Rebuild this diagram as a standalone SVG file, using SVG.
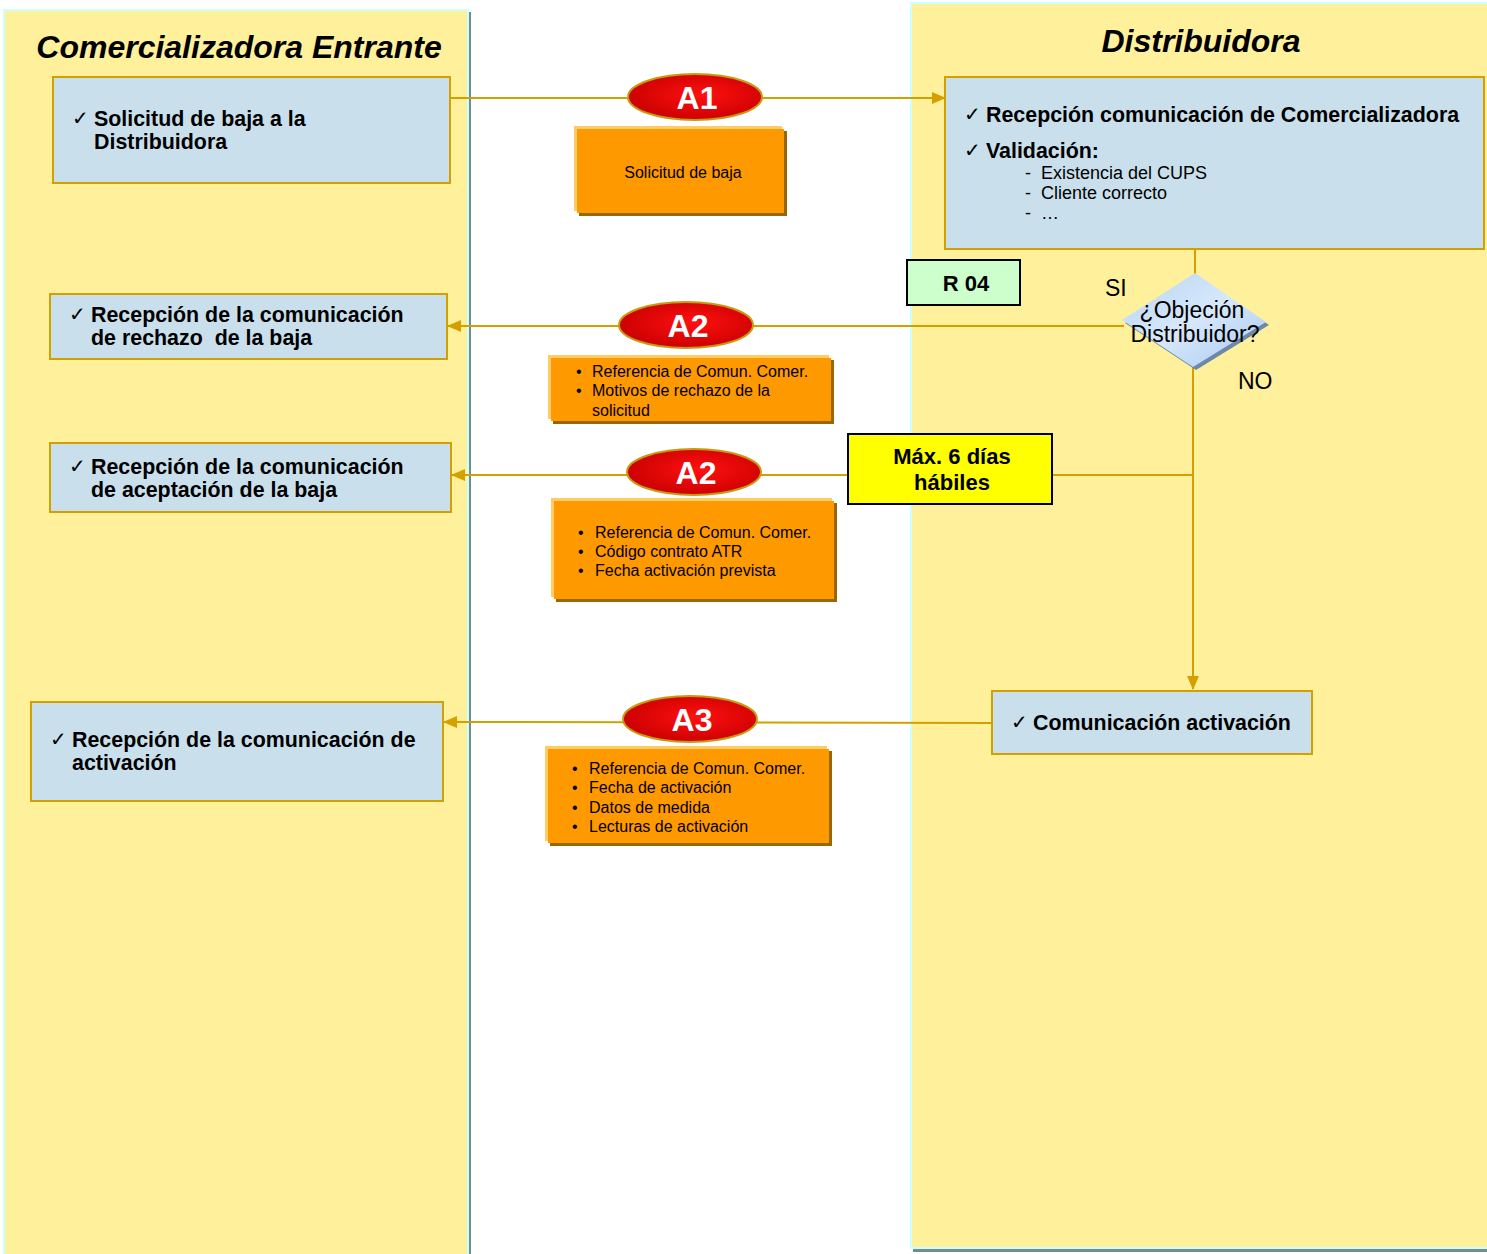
<svg xmlns="http://www.w3.org/2000/svg" width="1487" height="1254" viewBox="0 0 1487 1254">
<style>
.lane{fill:#fff09c;stroke:#ccffff;stroke-width:2}
.box{fill:#c9e0ec;stroke:#d4a000;stroke-width:2}
.or{fill:#ff9900}
.orl{fill:#ffcc66}
.ors{fill:#996600}
.conn{stroke:#d4a000;stroke-width:2;fill:none}
.title{font-family:"Liberation Sans",Arial,sans-serif;font-weight:bold;font-style:italic;font-size:32px;fill:#000}
.bt{font-family:"Liberation Sans",Arial,sans-serif;font-weight:bold;font-size:21.4px;fill:#000;white-space:pre}
.ck{font-family:"DejaVu Sans",sans-serif;font-size:20px;fill:#000}
.ot{font-family:"Liberation Sans",Arial,sans-serif;font-size:16px;fill:#000}
.st{font-family:"Liberation Sans",Arial,sans-serif;font-size:18px;fill:#000}
.lt{font-family:"Liberation Sans",Arial,sans-serif;font-size:23px;fill:#000}
.bd{font-family:"Liberation Sans",Arial,sans-serif;font-weight:bold;font-size:22px;fill:#000}
.at{font-family:"Liberation Sans",Arial,sans-serif;font-weight:bold;font-size:32px;fill:#fff}
.el{fill:url(#red);stroke:#c89a10;stroke-width:2}
</style>
<defs>
<marker id="ah" markerWidth="14" markerHeight="12" refX="13" refY="6" orient="auto" markerUnits="userSpaceOnUse">
<path d="M0,0 L14,6 L0,12 Z" fill="#d4a000"/>
</marker>
<radialGradient id="red" cx="0.55" cy="0.45" r="0.6">
<stop offset="0" stop-color="#ff1010"/>
<stop offset="1" stop-color="#c80000"/>
</radialGradient>
<linearGradient id="dia" x1="0" y1="0" x2="1" y2="1">
<stop offset="0" stop-color="#b8d4f4"/>
<stop offset="0.5" stop-color="#d6e8fb"/>
<stop offset="1" stop-color="#a9c8ee"/>
</linearGradient>
</defs>

<g id="lane-left">
<rect x="468" y="12" width="3" height="1242" fill="#6f8f8f"/>
<rect class="lane" x="4" y="10" width="464" height="1250"/>
<text class="title" x="239" y="58" text-anchor="middle">Comercializadora Entrante</text>
</g>
<g id="lane-right">
<rect x="913" y="1248" width="574" height="4" fill="#6f8f8f"/>
<rect class="lane" x="911" y="3" width="580" height="1245"/>
<text class="title" x="1201" y="52" text-anchor="middle">Distribuidora</text>
</g>

<g id="connectors">
<line class="conn" x1="450" y1="98" x2="945" y2="98" marker-end="url(#ah)"/>
<line class="conn" x1="1195" y1="250" x2="1195" y2="274"/>
<line class="conn" x1="1124" y1="326" x2="448" y2="326" marker-end="url(#ah)"/>
<line class="conn" x1="1193" y1="366" x2="1193" y2="689" marker-end="url(#ah)"/>
<line class="conn" x1="1193" y1="475" x2="452" y2="475" marker-end="url(#ah)"/>
<line class="conn" x1="992" y1="723" x2="444" y2="722" marker-end="url(#ah)"/>
</g>

<g id="n-solicitud">
<rect class="box" x="53" y="77" width="397" height="106"/>
<text class="ck" x="72" y="125">✓</text>
<text class="bt" x="94" y="126">Solicitud de baja a la</text>
<text class="bt" x="94" y="149">Distribuidora</text>
</g>

<g id="n-recepcion">
<rect class="box" x="945" y="77" width="539" height="172"/>
<text class="ck" x="964" y="121">✓</text>
<text class="bt" x="986" y="122">Recepción comunicación de Comercializadora</text>
<text class="ck" x="964" y="157">✓</text>
<text class="bt" x="986" y="158">Validación:</text>
<text class="st" x="1025" y="179">-</text>
<text class="st" x="1041" y="179">Existencia del CUPS</text>
<text class="st" x="1025" y="199">-</text>
<text class="st" x="1041" y="199">Cliente correcto</text>
<text class="st" x="1025" y="219">-</text>
<text class="st" x="1041" y="219">…</text>
</g>

<g id="n-a1">
<ellipse class="el" cx="695" cy="97" rx="67" ry="23"/>
<text class="at" x="697" y="109" text-anchor="middle">A1</text>
</g>
<g id="n-a1-data">
<rect class="ors" x="579" y="131" width="208" height="85"/>
<rect class="orl" x="574" y="126" width="208" height="85"/>
<rect class="or" x="577" y="129" width="207" height="84"/>
<text class="ot" x="683" y="178" text-anchor="middle">Solicitud de baja</text>
</g>

<g id="n-r04">
<rect x="907" y="260" width="113" height="45" fill="#ccffcc" stroke="#000" stroke-width="2"/>
<text class="bd" x="966" y="291" text-anchor="middle">R 04</text>
</g>

<g id="n-objecion">
<path d="M1198,276 L1269,325 L1196,370 L1125,323 Z" fill="#6f87a8"/>
<path d="M1195,273 L1266,322 L1193,367 L1122,320 Z" fill="url(#dia)"/>
<text class="lt" x="1192" y="318" text-anchor="middle">¿Objeción</text>
<text class="lt" x="1195" y="342" text-anchor="middle">Distribuidor?</text>
<text class="lt" x="1105" y="296">SI</text>
<text class="lt" x="1238" y="389">NO</text>
</g>

<g id="n-rechazo">
<rect class="box" x="50" y="294" width="397" height="65"/>
<text class="ck" x="69" y="321">✓</text>
<text class="bt" x="91" y="322">Recepción de la comunicación</text>
<text class="bt" x="91" y="345" xml:space="preserve">de rechazo  de la baja</text>
</g>

<g id="n-a2a">
<ellipse class="el" cx="686" cy="325" rx="67" ry="23"/>
<text class="at" x="688" y="337" text-anchor="middle">A2</text>
</g>
<g id="n-a2a-data">
<rect class="ors" x="553" y="360" width="281" height="64"/>
<rect class="orl" x="548" y="355" width="281" height="64"/>
<rect class="or" x="551" y="358" width="280" height="63"/>
<text class="ot" x="576" y="377">•</text><text class="ot" x="592" y="377">Referencia de Comun. Comer.</text>
<text class="ot" x="576" y="396">•</text><text class="ot" x="592" y="396">Motivos de rechazo de la</text>
<text class="ot" x="592" y="416">solicitud</text>
</g>

<g id="n-aceptacion">
<rect class="box" x="50" y="443" width="401" height="69"/>
<text class="ck" x="69" y="473">✓</text>
<text class="bt" x="91" y="474">Recepción de la comunicación</text>
<text class="bt" x="91" y="497">de aceptación de la baja</text>
</g>

<g id="n-a2b">
<ellipse class="el" cx="694" cy="472" rx="67" ry="23"/>
<text class="at" x="696" y="484" text-anchor="middle">A2</text>
</g>
<g id="n-a2b-data">
<rect class="ors" x="556" y="503" width="281" height="99"/>
<rect class="orl" x="551" y="498" width="281" height="99"/>
<rect class="or" x="554" y="501" width="280" height="98"/>
<text class="ot" x="578" y="538">•</text><text class="ot" x="595" y="538">Referencia de Comun. Comer.</text>
<text class="ot" x="578" y="557">•</text><text class="ot" x="595" y="557">Código contrato ATR</text>
<text class="ot" x="578" y="576">•</text><text class="ot" x="595" y="576">Fecha activación prevista</text>
</g>

<g id="n-max">
<rect x="848" y="434" width="204" height="70" fill="#ffff00" stroke="#000" stroke-width="2"/>
<text class="bd" x="952" y="464" text-anchor="middle">Máx. 6 días</text>
<text class="bd" x="952" y="490" text-anchor="middle">hábiles</text>
</g>

<g id="n-comunicacion">
<rect class="box" x="992" y="691" width="320" height="63"/>
<text class="ck" x="1011" y="729">✓</text>
<text class="bt" x="1033" y="730">Comunicación activación</text>
</g>

<g id="n-activacion">
<rect class="box" x="31" y="702" width="412" height="99"/>
<text class="ck" x="50" y="746">✓</text>
<text class="bt" x="72" y="747">Recepción de la comunicación de</text>
<text class="bt" x="72" y="770">activación</text>
</g>

<g id="n-a3">
<ellipse class="el" cx="690" cy="719" rx="67" ry="23"/>
<text class="at" x="692" y="731" text-anchor="middle">A3</text>
</g>
<g id="n-a3-data">
<rect class="ors" x="550" y="751" width="282" height="95"/>
<rect class="orl" x="545" y="746" width="282" height="95"/>
<rect class="or" x="548" y="749" width="281" height="94"/>
<text class="ot" x="572" y="774">•</text><text class="ot" x="589" y="774">Referencia de Comun. Comer.</text>
<text class="ot" x="572" y="793">•</text><text class="ot" x="589" y="793">Fecha de activación</text>
<text class="ot" x="572" y="813">•</text><text class="ot" x="589" y="813">Datos de medida</text>
<text class="ot" x="572" y="832">•</text><text class="ot" x="589" y="832">Lecturas de activación</text>
</g>
</svg>
